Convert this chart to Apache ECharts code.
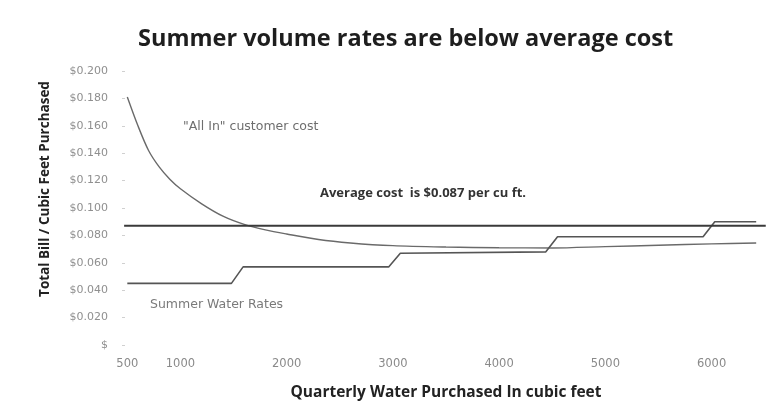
<!DOCTYPE html>
<html>
<head>
<meta charset="utf-8">
<script src="https://cdn.jsdelivr.net/npm/echarts@6/dist/echarts.min.js"></script>
<style>
  html, body { margin: 0; padding: 0; background: #ffffff; }
  #chart { width: 779px; height: 415px; }
</style>
</head>
<body>
<div id="chart"></div>
<script>
// Quarterly water purchased (cubic feet) tick labels
const xTicks = [500, 1000, 2000, 3000, 4000, 5000, 6000];

// "All In" customer cost per cubic foot, by quarterly volume
const allInVolume = [500, 600, 700, 800, 900, 1000, 1200, 1400, 1600, 1800, 2000, 2300, 2600, 3000, 3500, 4000, 4500, 5000, 5500, 6000, 6420];
const allInCost   = [0.181, 0.160, 0.142, 0.130, 0.121, 0.114, 0.103, 0.094, 0.088, 0.084, 0.081, 0.077, 0.0745, 0.0725, 0.0715, 0.071, 0.0708, 0.0718, 0.0728, 0.0738, 0.0745];

// Summer water rate tiers (volume breakpoints and rate)
const summerVolume = [500, 1480, 1590, 2960, 3070, 4440, 4550, 5920, 6030, 6420];
const summerRate   = [0.045, 0.045, 0.057, 0.057, 0.067, 0.068, 0.079, 0.079, 0.090, 0.090];

// Average cost across customers
const avgCost = 0.087;
const avgVolume = [470, 6510];

const pair = (xs, ys) => xs.map((x, i) => [x, ys[i]]);

const chart = echarts.init(document.getElementById('chart'), null, { renderer: 'canvas' });

const boldFont = '"Open Sans", "DejaVu Sans", sans-serif';
const plainFont = '"DejaVu Sans", "Lato", sans-serif';

chart.setOption({
  backgroundColor: '#ffffff',
  animation: false,
  title: {
    text: 'Summer volume rates are below average cost',
    left: 133,
    top: 22,
    textStyle: { fontFamily: boldFont, fontSize: 23.5, fontWeight: 'bold', color: '#1e1e1e' }
  },
  grid: { left: 122, right: 9, top: 71, bottom: 70 },
  xAxis: {
    type: 'value',
    min: 450,
    max: 6550,
    name: 'Quarterly Water Purchased In cubic feet',
    nameLocation: 'middle',
    nameGap: 40,
    nameTextStyle: { fontFamily: boldFont, fontSize: 15.5, fontWeight: 'bold', color: '#222' },
    axisLine: { show: false },
    axisTick: { show: false },
    splitLine: { show: false },
    axisLabel: {
      customValues: xTicks,
      margin: 13,
      fontFamily: plainFont,
      fontSize: 11.5,
      color: '#8a8a8a',
      formatter: v => String(v)
    }
  },
  yAxis: {
    type: 'value',
    min: 0,
    max: 0.2,
    interval: 0.02,
    axisLine: { show: false },
    axisTick: { show: true, inside: true, length: 3, lineStyle: { color: '#d0d0d0' } },
    splitLine: { show: false },
    axisLabel: {
      margin: 14,
      fontFamily: plainFont,
      fontSize: 11,
      color: '#8f8f8f',
      formatter: v => (v === 0 ? '$' : '$' + v.toFixed(3))
    }
  },
  series: [
    {
      name: 'Average cost',
      type: 'line',
      data: avgVolume.map(x => [x, avgCost]),
      symbol: 'none',
      lineStyle: { color: '#3a3a3a', width: 2 },
      z: 3
    },
    {
      name: '"All In" customer cost',
      type: 'line',
      data: pair(allInVolume, allInCost),
      smooth: 0.3,
      symbol: 'none',
      lineStyle: { color: '#6a6a6a', width: 1.4 },
      z: 2
    },
    {
      name: 'Summer Water Rates',
      type: 'line',
      data: pair(summerVolume, summerRate),
      symbol: 'none',
      lineStyle: { color: '#555555', width: 1.6 },
      z: 2
    }
  ],
  graphic: [
    {
      // vertical axis title
      type: 'text', x: 45, y: 189, rotation: Math.PI / 2,
      style: { text: 'Total Bill / Cubic Feet Purchased', fontFamily: boldFont, fontSize: 13.5, fontWeight: 'bold', fill: '#222', align: 'center', verticalAlign: 'middle' }
    },
    {
      type: 'text', left: 183, top: 120,
      style: { text: '"All In" customer cost', fontFamily: plainFont, fontSize: 12.5, fill: '#6e6e6e' }
    },
    {
      type: 'text', left: 320, top: 187,
      style: { text: 'Average cost  is $' + avgCost.toFixed(3) + ' per cu ft.', fontFamily: boldFont, fontSize: 13, fontWeight: 'bold', fill: '#333' }
    },
    {
      type: 'text', left: 150, top: 298,
      style: { text: 'Summer Water Rates', fontFamily: plainFont, fontSize: 12.5, fill: '#7a7a7a' }
    }
  ]
});
</script>
</body>
</html>
